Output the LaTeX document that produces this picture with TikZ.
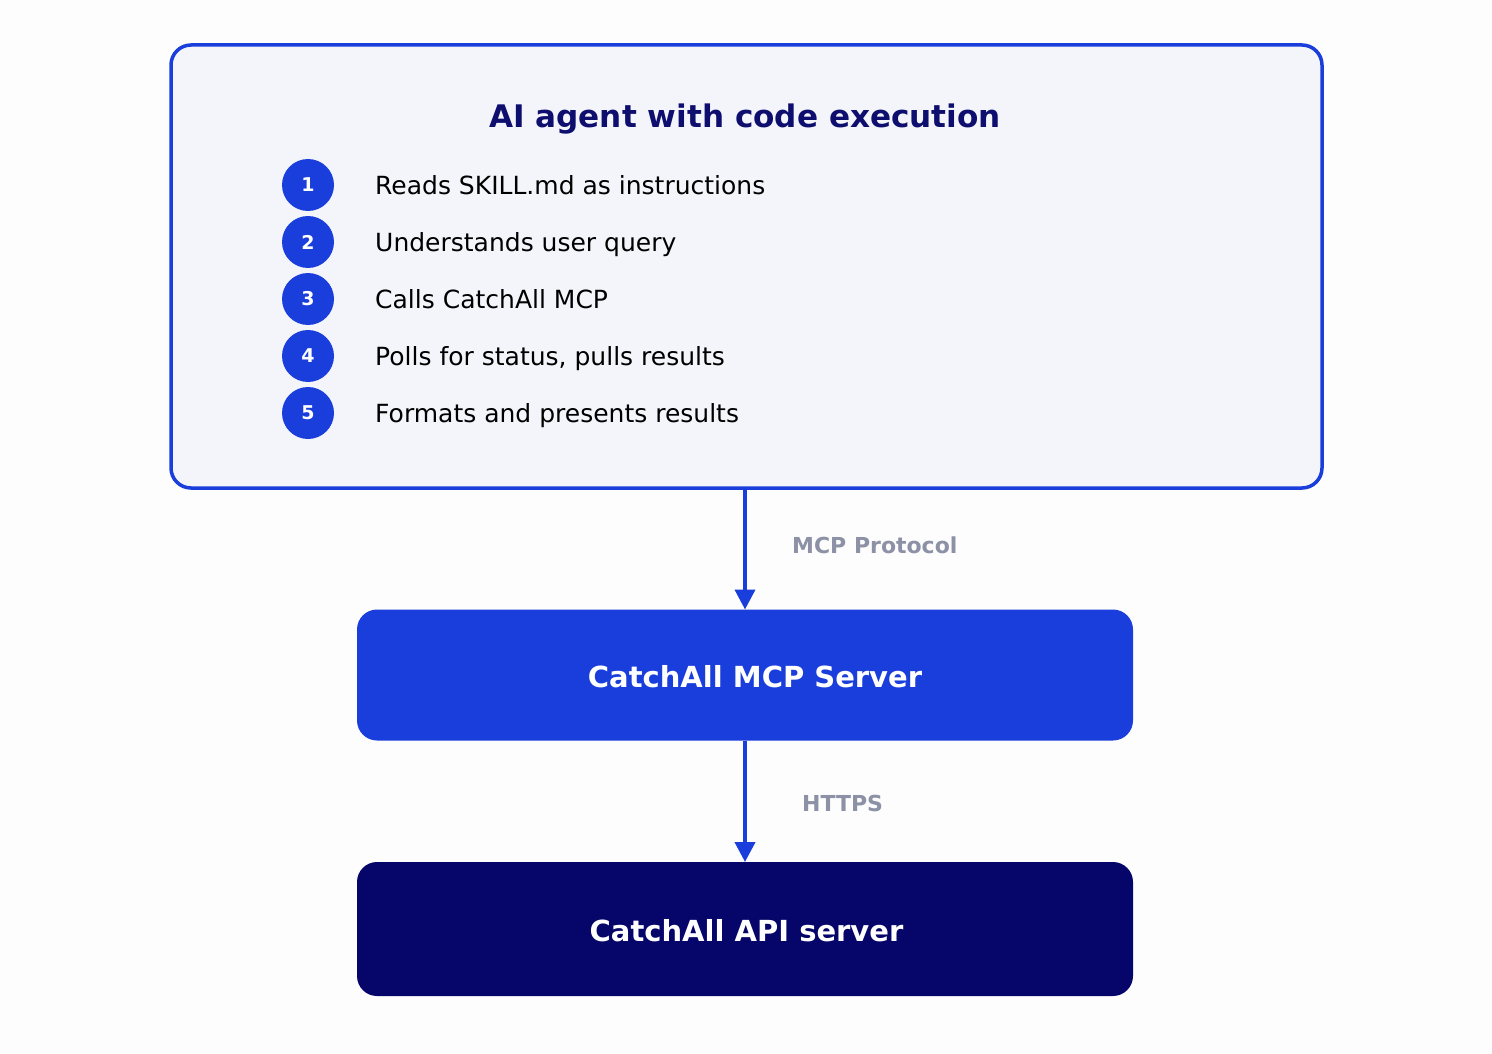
\documentclass[tikz,border=0pt]{standalone}
\usepackage{fontspec}
\setmainfont{DejaVu Sans}
\usetikzlibrary{arrows.meta,calc}
\definecolor{bluemain}{HTML}{1A3EDB}
\definecolor{navy}{HTML}{05056A}
\definecolor{titlecol}{HTML}{0E0E6E}
\definecolor{panelfill}{HTML}{F4F5FA}
\definecolor{labelgray}{HTML}{8C91A5}
\definecolor{bgcol}{HTML}{FDFDFE}
\tikzset{
  panel/.style={draw=bluemain, line width=3.5pt, fill=panelfill, rounded corners=20pt, minimum width=1151pt, minimum height=443pt, inner sep=0pt, outer sep=0pt},
  server/.style={rounded corners=20pt, minimum width=776pt, inner sep=0pt, outer sep=0pt, text=white, font=\fontsize{29}{34}\selectfont\bfseries},
  numcirc/.style={circle, fill=bluemain, minimum size=52pt, inner sep=0pt, text=white, font=\fontsize{19}{22}\selectfont\bfseries},
  itemtext/.style={anchor=base west, inner sep=0pt, text=black, font=\fontsize{25}{29}\selectfont},
  conn/.style={draw=bluemain, line width=4pt, -{Triangle[width=20pt,length=20pt]}},
  connlabel/.style={anchor=west, inner sep=0pt, text=labelgray, font=\fontsize{22}{26}\selectfont\bfseries}
}
\begin{document}
\begin{tikzpicture}[x=1pt,y=-1pt]
\fill[bgcol] (0,0) rectangle (1492,1054);
\useasboundingbox (0,0) rectangle (1492,1054);
\node[panel] (agent) at (746.5,266.5) {};
\node[text=titlecol, font=\fontsize{31.1}{36}\selectfont\bfseries, inner sep=0pt, anchor=base] (title) at (745,128) {AI agent with code execution};
\foreach \i/\y/\t in {1/185/{Reads SKILL.md as instructions},
                      2/242/{Understands user query},
                      3/299/{Calls CatchAll MCP},
                      4/356/{Polls for status, pulls results},
                      5/413/{Formats and presents results}}{
  \node[numcirc] (n\i) at (308,\y) {\i};
  \node[itemtext] (t\i) at (375,\y+9) {\t};
}
\node[server, fill=bluemain, minimum height=131pt] (mcp) at (745,675) {\hspace*{20pt}\raisebox{-2pt}[\height][\depth]{CatchAll MCP Server}};
\node[server, fill=navy, minimum height=134pt] (api) at (745,929) {\hspace*{3pt}\raisebox{-2pt}[\height][\depth]{CatchAll API server}};
\coordinate (a1) at (agent.south -| mcp.north);
\draw[conn] (a1) -- (mcp.north);
\draw[conn] (mcp.south) -- (api.north);
\node[connlabel] (l1) at (792,545) {MCP Protocol};
\node[connlabel] (l2) at (802,803) {HTTPS};
\end{tikzpicture}
\end{document}
